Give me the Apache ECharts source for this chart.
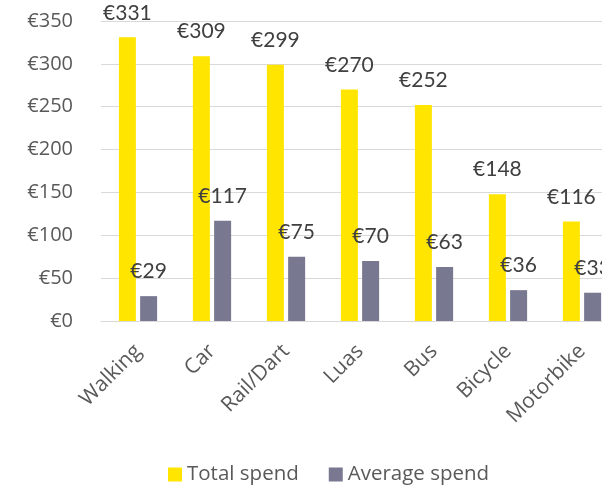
<!DOCTYPE html>
<html>
<head>
<meta charset="utf-8">
<script src="https://cdn.jsdelivr.net/npm/echarts@6/dist/echarts.min.js"></script>
<style>
  html, body { margin: 0; padding: 0; overflow: hidden; background: #fff; }
  #chart { width: 620px; height: 487px; }
</style>
</head>
<body>
<div id="chart"></div>
<script>
const categories = ['Walking', 'Car', 'Rail/Dart', 'Luas', 'Bus', 'Bicycle', 'Motorbike'];
const totalSpend = [331, 309, 299, 270, 252, 148, 116];
const averageSpend = [29, 117, 75, 70, 63, 36, 33];

const textColor = '#595959';
const gridColor = '#d9d9d9';

const chart = echarts.init(document.getElementById('chart'));

const label = {
  show: true,
  position: 'top',
  distance: 14,
  color: '#404040',
  fontFamily: 'Lato',
  fontSize: 21,
  formatter: (p) => '€' + p.value,
};

chart.setOption({
  animation: false,
  grid: { left: 101, right: 1, top: 21, bottom: 166, containLabel: false },
  legend: {
    left: 168,
    top: 464,
    padding: 0,
    itemWidth: 14,
    itemHeight: 14,
    itemGap: 30,
    icon: 'rect',
    textStyle: { color: textColor, fontFamily: 'Open Sans', fontSize: 20.5 },
    data: ['Total spend', 'Average spend'],
  },
  xAxis: {
    type: 'category',
    data: categories,
    axisLine: { lineStyle: { color: gridColor, width: 1 } },
    axisTick: { show: false },
    axisLabel: {
      rotate: 45,
      color: textColor,
      fontFamily: 'Open Sans',
      fontSize: 21,
      margin: 27,
      interval: 0,
    },
  },
  yAxis: {
    type: 'value',
    min: 0,
    max: 350,
    interval: 50,
    axisLine: { show: false },
    axisTick: { show: false },
    splitLine: { lineStyle: { color: gridColor, width: 1 } },
    axisLabel: {
      color: textColor,
      fontFamily: 'Open Sans',
      fontSize: 20,
      margin: 28,
      formatter: (v) => '€' + v,
    },
  },
  series: [
    {
      name: 'Total spend',
      type: 'bar',
      data: totalSpend,
      barWidth: 17,
      barGap: '25%',
      itemStyle: { color: '#ffe500' },
      label: label,
    },
    {
      name: 'Average spend',
      type: 'bar',
      data: averageSpend,
      barWidth: 17,
      itemStyle: { color: '#787891' },
      label: label,
    },
  ],
});
</script>
</body>
</html>
